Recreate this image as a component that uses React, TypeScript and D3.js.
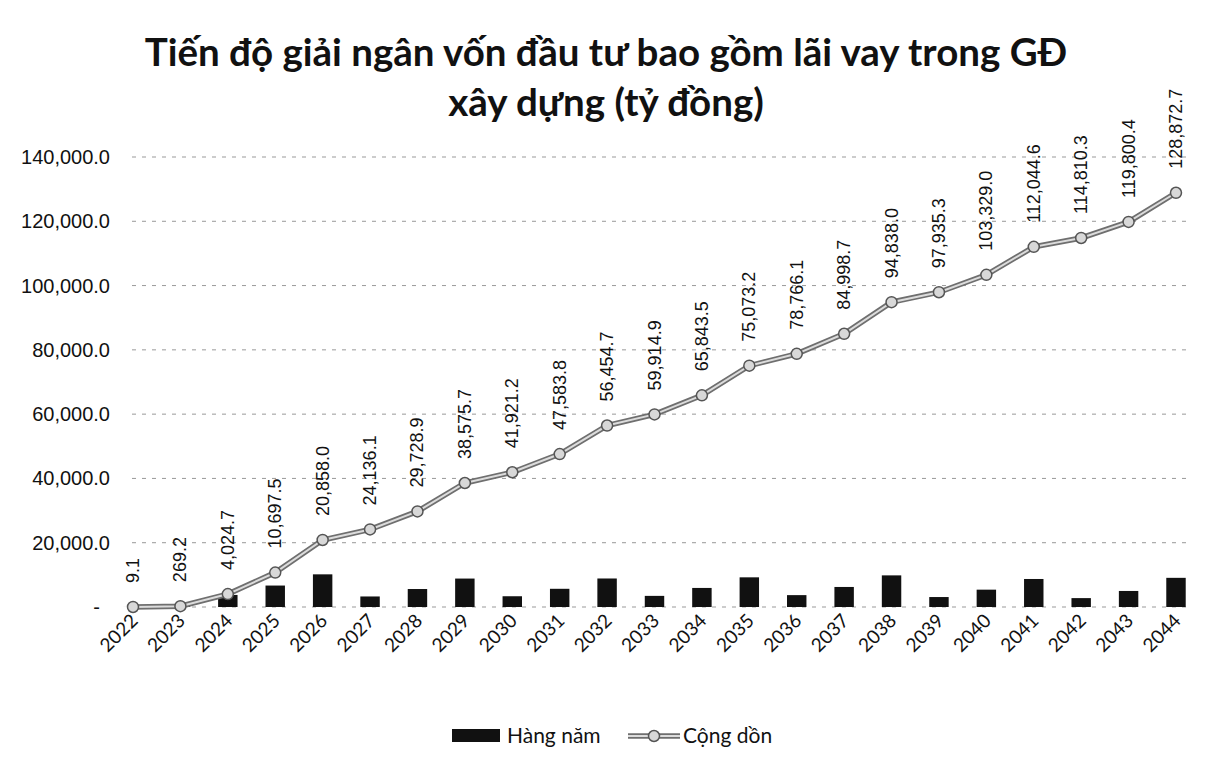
import * as d3 from "d3";
import {useEffect, useRef} from "react";

const years = ["2022", "2023", "2024", "2025", "2026", "2027", "2028", "2029", "2030", "2031", "2032", "2033",
    "2034", "2035", "2036", "2037", "2038", "2039", "2040", "2041", "2042", "2043", "2044"];

// Hàng năm (annual disbursement)
const annual = [9.1, 260.1, 3755.5, 6672.8, 10160.5, 3278.1, 5592.8, 8846.8, 3345.5, 5662.6, 8870.9, 3460.2,
    5928.6, 9229.7, 3692.9, 6232.6, 9839.3, 3097.3, 5393.7, 8715.6, 2765.7, 4990.1, 9072.3];

// Cộng dồn (cumulative)
const cumulative = [9.1, 269.2, 4024.7, 10697.5, 20858.0, 24136.1, 29728.9, 38575.7, 41921.2, 47583.8, 56454.7,
    59914.9, 65843.5, 75073.2, 78766.1, 84998.7, 94838.0, 97935.3, 103329.0, 112044.6, 114810.3, 119800.4, 128872.7];

const yTicks = [0, 20000, 40000, 60000, 80000, 100000, 120000, 140000];

const titleLines = ["Tiến độ giải ngân vốn đầu tư bao gồm lãi vay trong GĐ", "xây dựng (tỷ đồng)"];
const legendLabels = ["Hàng năm", "Cộng dồn"];

const W = 1209;
const H = 769;

const App = () => {
    const svgRef = useRef(null);

    useEffect(() => {
        if (!svgRef.current) return;
        const svg = d3.select(svgRef.current);
        svg.selectAll("*").remove();

        const x = d3.scaleBand().domain(years).range([109.3, 1199.7]).padding(0);
        const cx = (y: string) => (x(y) as number) + x.bandwidth() / 2;
        const y = d3.scaleLinear().domain([0, 140000]).range([607, 157]);
        const fmt = d3.format(",.1f");

        svg.append("rect").attr("width", W).attr("height", H).attr("fill", "#fff");

        // title
        svg.append("g")
            .selectAll("text")
            .data(titleLines)
            .enter()
            .append("text")
            .attr("x", 606)
            .attr("y", (d, i) => 66 + i * 50)
            .attr("text-anchor", "middle")
            .attr("font-family", "Lato, 'Open Sans', sans-serif")
            .attr("font-weight", "bold")
            .attr("font-size", 38.5)
            .attr("fill", "#111")
            .text(d => d);

        // grid
        svg.append("g")
            .selectAll("line")
            .data(yTicks)
            .enter()
            .append("line")
            .attr("x1", 132)
            .attr("x2", 1192)
            .attr("y1", d => y(d))
            .attr("y2", d => y(d))
            .attr("stroke", "#999")
            .attr("stroke-width", 1)
            .attr("stroke-dasharray", "4,6");

        // y labels
        svg.append("g")
            .selectAll("text")
            .data(yTicks)
            .enter()
            .append("text")
            .attr("x", d => d === 0 ? 100 : 110)
            .attr("y", d => y(d) + 7)
            .attr("text-anchor", "end")
            .attr("font-family", "'Liberation Sans', Arial, sans-serif")
            .attr("font-size", 20)
            .attr("fill", "#111")
            .text(d => d === 0 ? "-" : fmt(d));

        // x labels
        svg.append("g")
            .selectAll("text")
            .data(years)
            .enter()
            .append("text")
            .attr("transform", d => `translate(${cx(d) + 6},${622}) rotate(-45)`)
            .attr("text-anchor", "end")
            .attr("font-family", "Lato, 'Open Sans', sans-serif")
            .attr("font-size", 19)
            .attr("fill", "#111")
            .text(d => d);

        // bars
        const bw = x.bandwidth() * 0.41;
        svg.append("g")
            .selectAll("rect")
            .data(annual)
            .enter()
            .append("rect")
            .attr("x", (d, i) => cx(years[i]) - bw / 2)
            .attr("y", d => y(d))
            .attr("width", bw)
            .attr("height", d => y(0) - y(d))
            .attr("fill", "#111");

        // cumulative line
        const line = d3.line<number>()
            .x((d, i) => cx(years[i]))
            .y(d => y(d));

        svg.append("path")
            .datum(cumulative)
            .attr("fill", "none")
            .attr("stroke", "#6f6f6f")
            .attr("stroke-width", 5.5)
            .attr("d", line);
        svg.append("path")
            .datum(cumulative)
            .attr("fill", "none")
            .attr("stroke", "#dcdcdc")
            .attr("stroke-width", 2)
            .attr("d", line);

        svg.append("g")
            .selectAll("circle")
            .data(cumulative)
            .enter()
            .append("circle")
            .attr("cx", (d, i) => cx(years[i]))
            .attr("cy", d => y(d))
            .attr("r", 5.5)
            .attr("fill", "#d8d8d8")
            .attr("stroke", "#555")
            .attr("stroke-width", 1.5);

        // data labels
        svg.append("g")
            .selectAll("text")
            .data(cumulative)
            .enter()
            .append("text")
            .attr("transform", (d, i) => `translate(${cx(years[i]) + 6},${y(d) - 24}) rotate(-90)`)
            .attr("text-anchor", "start")
            .attr("font-family", "'Liberation Sans', Arial, sans-serif")
            .attr("font-size", 18)
            .attr("fill", "#111")
            .text(d => fmt(d));

        // legend
        const lg = svg.append("g");
        lg.append("rect")
            .attr("x", 452).attr("y", 729).attr("width", 48).attr("height", 13)
            .attr("fill", "#111");
        lg.append("text")
            .attr("x", 507).attr("y", 743)
            .attr("font-family", "Lato, 'Open Sans', sans-serif")
            .attr("font-size", 21)
            .attr("fill", "#111")
            .text(legendLabels[0]);
        lg.append("line")
            .attr("x1", 628).attr("x2", 680).attr("y1", 736).attr("y2", 736)
            .attr("stroke", "#6f6f6f").attr("stroke-width", 5.5);
        lg.append("line")
            .attr("x1", 628).attr("x2", 680).attr("y1", 736).attr("y2", 736)
            .attr("stroke", "#dcdcdc").attr("stroke-width", 2);
        lg.append("circle")
            .attr("cx", 654).attr("cy", 736).attr("r", 5.5)
            .attr("fill", "#d8d8d8").attr("stroke", "#555").attr("stroke-width", 1.5);
        lg.append("text")
            .attr("x", 683).attr("y", 743)
            .attr("font-family", "Lato, 'Open Sans', sans-serif")
            .attr("font-size", 21)
            .attr("fill", "#111")
            .text(legendLabels[1]);
    }, []);

    return <svg ref={svgRef} width={W} height={H}
                style={{position: "absolute", left: 0, top: 0, display: "block"}}></svg>;
};

export default App;
